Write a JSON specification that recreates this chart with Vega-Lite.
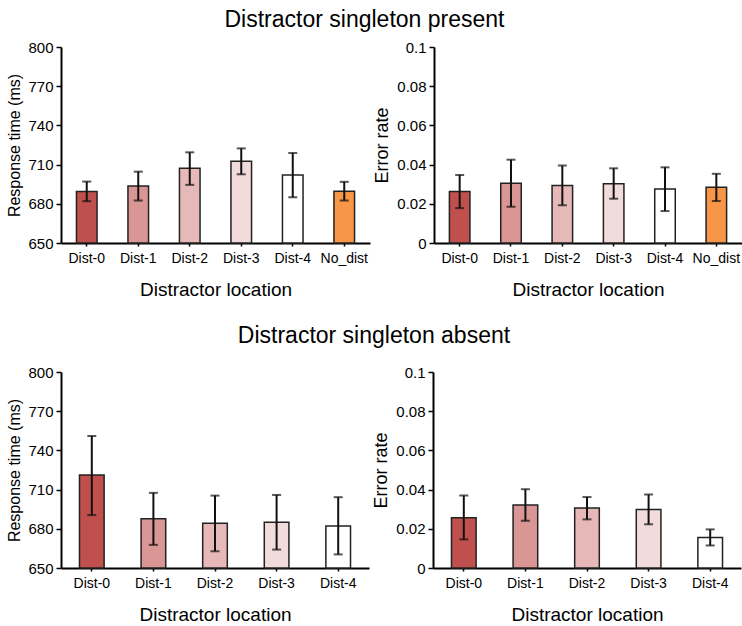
{
  "$schema": "https://vega.github.io/schema/vega-lite/v6.json",
  "background": "white",
  "padding": {"left": 6, "top": 9, "right": 0, "bottom": 0},
  "config": {
    "font": "Liberation Sans",
    "view": {"stroke": null},
    "axis": {
      "grid": false,
      "domainColor": "#000",
      "domainWidth": 2,
      "tickColor": "#000",
      "tickWidth": 1.5,
      "labelColor": "#000",
      "titleColor": "#000",
      "titleFontWeight": "normal",
      "labelFont": "Liberation Sans",
      "titleFont": "Liberation Sans",
      "labelOverlap": false
    },
    "axisX": {"tickSize": 3, "labelFontSize": 14, "labelPadding": 5, "titleFontSize": 19, "titlePadding": 15, "labelAngle": 0},
    "axisY": {"tickSize": 5, "labelFontSize": 15, "labelPadding": 3, "titlePadding": 5, "titleFontSize": 17},
    "title": {"fontSize": 23, "fontWeight": "normal", "color": "#000", "font": "Liberation Sans", "anchor": "middle"},
    "concat": {"spacing": 3}
  },
  "datasets": {
    "present_rt": [
      {"loc": "Dist-0", "mean": 689.5, "lo": 682, "hi": 697},
      {"loc": "Dist-1", "mean": 693.7, "lo": 682.5, "hi": 704.6},
      {"loc": "Dist-2", "mean": 707.2, "lo": 694.5, "hi": 719.4},
      {"loc": "Dist-3", "mean": 712.5, "lo": 702.6, "hi": 722.4},
      {"loc": "Dist-4", "mean": 702.1, "lo": 685, "hi": 718.9},
      {"loc": "No_dist", "mean": 689.7, "lo": 682.5, "hi": 696.8}
    ],
    "present_err": [
      {"loc": "Dist-0", "mean": 0.0263, "lo": 0.0178, "hi": 0.0347},
      {"loc": "Dist-1", "mean": 0.0305, "lo": 0.0185, "hi": 0.0425},
      {"loc": "Dist-2", "mean": 0.0293, "lo": 0.0193, "hi": 0.0395},
      {"loc": "Dist-3", "mean": 0.0302, "lo": 0.0226, "hi": 0.0381},
      {"loc": "Dist-4", "mean": 0.0276, "lo": 0.0163, "hi": 0.0386},
      {"loc": "No_dist", "mean": 0.0285, "lo": 0.0214, "hi": 0.0353}
    ],
    "absent_rt": [
      {"loc": "Dist-0", "mean": 721.2, "lo": 690.5, "hi": 751},
      {"loc": "Dist-1", "mean": 687.6, "lo": 667.7, "hi": 707.5},
      {"loc": "Dist-2", "mean": 684.2, "lo": 662.8, "hi": 705.4},
      {"loc": "Dist-3", "mean": 685.1, "lo": 664.1, "hi": 705.9},
      {"loc": "Dist-4", "mean": 682.2, "lo": 660.4, "hi": 704.2}
    ],
    "absent_err": [
      {"loc": "Dist-0", "mean": 0.0257, "lo": 0.0146, "hi": 0.037},
      {"loc": "Dist-1", "mean": 0.0321, "lo": 0.0241, "hi": 0.0402},
      {"loc": "Dist-2", "mean": 0.0306, "lo": 0.0248, "hi": 0.0362},
      {"loc": "Dist-3", "mean": 0.0299, "lo": 0.0223, "hi": 0.0375},
      {"loc": "Dist-4", "mean": 0.0156, "lo": 0.0115, "hi": 0.0197}
    ]
  },
  "vconcat": [
    {
      "title": {"text": "Distractor singleton present", "offset": 8, "dx": -10},
      "spacing": 3,
      "hconcat": [
        {
          "width": 309, "height": 196,
          "data": {"name": "present_rt"},
          "encoding": {"x": {"field": "loc", "type": "nominal", "sort": null, "title": "Distractor location", "scale": {"paddingInner": 0.6, "paddingOuter": 0.3}}},
          "layer": [
            {"mark": {"type": "bar", "stroke": "#222", "strokeWidth": 1.5},
             "encoding": {
               "y": {"field": "mean", "type": "quantitative", "title": "Response time (ms)", "scale": {"domain": [650, 800], "zero": false, "nice": false}, "axis": {"values": [650, 680, 710, 740, 770, 800], "titleFontSize": 16, "labelOverlap": false}},
               "y2": {"datum": 650},
               "color": {"field": "loc", "type": "nominal", "legend": null, "scale": {"domain": ["Dist-0", "Dist-1", "Dist-2", "Dist-3", "Dist-4", "No_dist"], "range": ["#c0504d", "#d99694", "#e6b9b8", "#f2dcdb", "#ffffff", "#f79646"]}}
             }},
            {"mark": {"type": "rule", "strokeWidth": 2, "color": "#111"},
             "encoding": {"y": {"field": "lo", "type": "quantitative", "title": "Response time (ms)", "axis": {"values": [650, 680, 710, 740, 770, 800], "titleFontSize": 16, "labelOverlap": false}}, "y2": {"field": "hi"}}},
            {"mark": {"type": "tick", "thickness": 2, "size": 9, "color": "#111"},
             "encoding": {"y": {"field": "lo", "type": "quantitative", "title": "Response time (ms)", "axis": {"values": [650, 680, 710, 740, 770, 800], "titleFontSize": 16, "labelOverlap": false}}}},
            {"mark": {"type": "tick", "thickness": 2, "size": 9, "color": "#111"},
             "encoding": {"y": {"field": "hi", "type": "quantitative", "title": "Response time (ms)", "axis": {"values": [650, 680, 710, 740, 770, 800], "titleFontSize": 16, "labelOverlap": false}}}}
          ]
        },
        {
          "width": 308, "height": 196,
          "data": {"name": "present_err"},
          "encoding": {"x": {"field": "loc", "type": "nominal", "sort": null, "title": "Distractor location", "scale": {"paddingInner": 0.6, "paddingOuter": 0.3}}},
          "layer": [
            {"mark": {"type": "bar", "stroke": "#222", "strokeWidth": 1.5},
             "encoding": {
               "y": {"field": "mean", "type": "quantitative", "title": "Error rate", "scale": {"domain": [0, 0.1], "nice": false}, "axis": {"values": [0, 0.02, 0.04, 0.06, 0.08, 0.1], "format": "~g", "titleFontSize": 18, "labelOverlap": false}},
               "color": {"field": "loc", "type": "nominal", "legend": null, "scale": {"domain": ["Dist-0", "Dist-1", "Dist-2", "Dist-3", "Dist-4", "No_dist"], "range": ["#c0504d", "#d99694", "#e6b9b8", "#f2dcdb", "#ffffff", "#f79646"]}}
             }},
            {"mark": {"type": "rule", "strokeWidth": 2, "color": "#111"},
             "encoding": {"y": {"field": "lo", "type": "quantitative", "title": "Error rate", "axis": {"values": [0, 0.02, 0.04, 0.06, 0.08, 0.1], "format": "~g", "titleFontSize": 18, "labelOverlap": false}}, "y2": {"field": "hi"}}},
            {"mark": {"type": "tick", "thickness": 2, "size": 9, "color": "#111"},
             "encoding": {"y": {"field": "lo", "type": "quantitative", "title": "Error rate", "axis": {"values": [0, 0.02, 0.04, 0.06, 0.08, 0.1], "format": "~g", "titleFontSize": 18, "labelOverlap": false}}}},
            {"mark": {"type": "tick", "thickness": 2, "size": 9, "color": "#111"},
             "encoding": {"y": {"field": "hi", "type": "quantitative", "title": "Error rate", "axis": {"values": [0, 0.02, 0.04, 0.06, 0.08, 0.1], "format": "~g", "titleFontSize": 18, "labelOverlap": false}}}}
          ]
        }
      ]
    },
    {
      "title": {"text": "Distractor singleton absent", "offset": 17},
      "spacing": 3,
      "hconcat": [
        {
          "width": 308, "height": 196,
          "data": {"name": "absent_rt"},
          "encoding": {"x": {"field": "loc", "type": "nominal", "sort": null, "title": "Distractor location", "scale": {"paddingInner": 0.6, "paddingOuter": 0.3}}},
          "layer": [
            {"mark": {"type": "bar", "stroke": "#222", "strokeWidth": 1.5},
             "encoding": {
               "y": {"field": "mean", "type": "quantitative", "title": "Response time (ms)", "scale": {"domain": [650, 800], "zero": false, "nice": false}, "axis": {"values": [650, 680, 710, 740, 770, 800], "titleFontSize": 16, "labelOverlap": false}},
               "y2": {"datum": 650},
               "color": {"field": "loc", "type": "nominal", "legend": null, "scale": {"domain": ["Dist-0", "Dist-1", "Dist-2", "Dist-3", "Dist-4"], "range": ["#c0504d", "#d99694", "#e6b9b8", "#f2dcdb", "#ffffff"]}}
             }},
            {"mark": {"type": "rule", "strokeWidth": 2, "color": "#111"},
             "encoding": {"y": {"field": "lo", "type": "quantitative", "title": "Response time (ms)", "axis": {"values": [650, 680, 710, 740, 770, 800], "titleFontSize": 16, "labelOverlap": false}}, "y2": {"field": "hi"}}},
            {"mark": {"type": "tick", "thickness": 2, "size": 9, "color": "#111"},
             "encoding": {"y": {"field": "lo", "type": "quantitative", "title": "Response time (ms)", "axis": {"values": [650, 680, 710, 740, 770, 800], "titleFontSize": 16, "labelOverlap": false}}}},
            {"mark": {"type": "tick", "thickness": 2, "size": 9, "color": "#111"},
             "encoding": {"y": {"field": "hi", "type": "quantitative", "title": "Response time (ms)", "axis": {"values": [650, 680, 710, 740, 770, 800], "titleFontSize": 16, "labelOverlap": false}}}}
          ]
        },
        {
          "width": 308, "height": 196,
          "data": {"name": "absent_err"},
          "encoding": {"x": {"field": "loc", "type": "nominal", "sort": null, "title": "Distractor location", "scale": {"paddingInner": 0.6, "paddingOuter": 0.3}}},
          "layer": [
            {"mark": {"type": "bar", "stroke": "#222", "strokeWidth": 1.5},
             "encoding": {
               "y": {"field": "mean", "type": "quantitative", "title": "Error rate", "scale": {"domain": [0, 0.1], "nice": false}, "axis": {"values": [0, 0.02, 0.04, 0.06, 0.08, 0.1], "format": "~g", "titleFontSize": 18, "labelOverlap": false}},
               "color": {"field": "loc", "type": "nominal", "legend": null, "scale": {"domain": ["Dist-0", "Dist-1", "Dist-2", "Dist-3", "Dist-4"], "range": ["#c0504d", "#d99694", "#e6b9b8", "#f2dcdb", "#ffffff"]}}
             }},
            {"mark": {"type": "rule", "strokeWidth": 2, "color": "#111"},
             "encoding": {"y": {"field": "lo", "type": "quantitative", "title": "Error rate", "axis": {"values": [0, 0.02, 0.04, 0.06, 0.08, 0.1], "format": "~g", "titleFontSize": 18, "labelOverlap": false}}, "y2": {"field": "hi"}}},
            {"mark": {"type": "tick", "thickness": 2, "size": 9, "color": "#111"},
             "encoding": {"y": {"field": "lo", "type": "quantitative", "title": "Error rate", "axis": {"values": [0, 0.02, 0.04, 0.06, 0.08, 0.1], "format": "~g", "titleFontSize": 18, "labelOverlap": false}}}},
            {"mark": {"type": "tick", "thickness": 2, "size": 9, "color": "#111"},
             "encoding": {"y": {"field": "hi", "type": "quantitative", "title": "Error rate", "axis": {"values": [0, 0.02, 0.04, 0.06, 0.08, 0.1], "format": "~g", "titleFontSize": 18, "labelOverlap": false}}}}
          ]
        }
      ]
    }
  ],
  "spacing": 26
}
